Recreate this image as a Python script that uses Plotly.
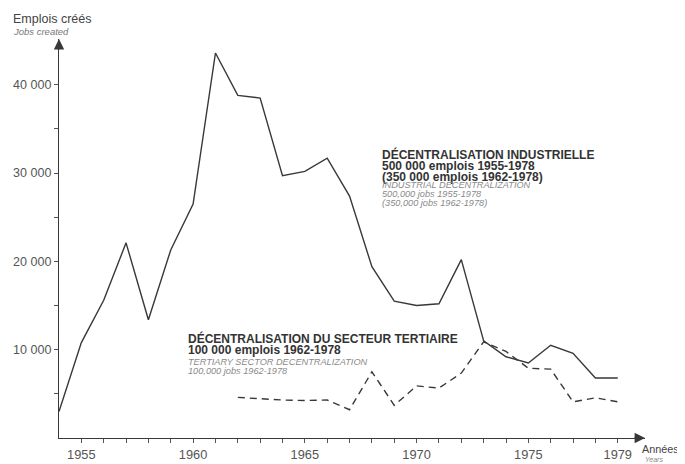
import plotly.graph_objects as go

# ---- data ----
years = list(range(1954, 1980))
industrial = [3000, 10800, 15600, 22100, 13400, 21300, 26500, 43600, 38800, 38500,
              29700, 30200, 31700, 27400, 19400, 15500, 15000, 15200, 20200, 11000,
              9200, 8500, 10500, 9600, 6800, 6800]
tertiary_years = list(range(1962, 1980))
tertiary = [4600, 4450, 4300, 4250, 4300, 3200, 7500, 3700, 5900, 5650,
            7350, 10900, 9800, 7900, 7800, 4100, 4550, 4100]

x_tick_years = list(range(1955, 1980))
x_label_years = [1955, 1960, 1965, 1970, 1975, 1979]
y_tick_vals = [5000, 10000, 15000, 20000, 25000, 30000, 35000, 40000]
y_label_vals = [10000, 20000, 30000, 40000]

SP = "\u00a0"
def fmt(v):
    return f"{v:,}".replace(",", SP)

# ---- layout geometry (page pixels; page has an 8px body margin) ----
OFF = 8
W, H = 685 - OFF, 464 - OFF
L, R, T, B = 59, 645, 39, 438          # page coordinates of the plot area
XMIN, XMAX = 1954, 1954 + (R - L) / 22.35
YMIN, YMAX = 0, (B - T) / 88.3 * 10000

def px(x):
    return (x - L) / (R - L)

def py(y):
    return (B - y) / (B - T)

INK = "#383838"
FONT = "Liberation Sans, Arial, Helvetica, sans-serif"

fig = go.Figure()
fig.add_trace(go.Scatter(x=years, y=industrial, mode="lines",
                         line=dict(color=INK, width=1.4), hoverinfo="skip",
                         showlegend=False))
fig.add_trace(go.Scatter(x=tertiary_years, y=tertiary, mode="lines",
                         line=dict(color=INK, width=1.4, dash="7px,5px"),
                         hoverinfo="skip", showlegend=False))

annotations = []

def txt(x, y, text, size, color, anchor="left"):
    annotations.append(dict(xref="paper", yref="paper", x=px(x), y=py(y),
                            xanchor=anchor, yanchor="middle", text=text,
                            showarrow=False, borderpad=0,
                            font=dict(family=FONT, size=size, color=color)))

txt(12, 19, "Emplois créés", 12.5, "#444")
txt(12, 31, "<i>Jobs created</i>", 9.5, "#777")

bold_c = "#333"
ital_c = "#8a8a8a"
BS = 12
IS = 9.2
txt(381, 154.5, "<b>DÉCENTRALISATION INDUSTRIELLE</b>", BS, bold_c)
txt(381, 165.5, "<b>500" + SP + "000 emplois 1955-1978</b>", BS, bold_c)
txt(381, 176.5, "<b>(350" + SP + "000 emplois 1962-1978)</b>", BS, bold_c)
txt(381, 185.5, "<i>INDUSTRIAL DÉCENTRALIZATION</i>", IS, ital_c)
txt(381, 194, "<i>500,000 jobs 1955-1978</i>", IS, ital_c)
txt(381, 202.5, "<i>(350,000 jobs 1962-1978)</i>", IS, ital_c)

txt(187, 338, "<b>DÉCENTRALISATION DU SECTEUR TERTIAIRE</b>", BS, bold_c)
txt(187, 350, "<b>100" + SP + "000 emplois 1962-1978</b>", BS, bold_c)
txt(187, 361.5, "<i>TERTIARY SECTOR DECENTRALIZATION</i>", IS, ital_c)
txt(187, 371, "<i>100,000 jobs 1962-1978</i>", IS, ital_c)

txt(641, 449, "Années", 10.8, "#444")
txt(644, 459, "<i>Years</i>", 7, "#888")

# axis arrowheads
annotations.append(dict(xref="x", yref="y", x=XMIN, y=YMAX, ax=0, ay=12,
                        text="", showarrow=True, arrowhead=2, arrowsize=1.6,
                        arrowwidth=1.3, arrowcolor=INK, standoff=0))
annotations.append(dict(xref="x", yref="y", x=XMAX, y=0, ax=-12, ay=0,
                        text="", showarrow=True, arrowhead=2, arrowsize=1.6,
                        arrowwidth=1.3, arrowcolor=INK, standoff=0))

fig.update_layout(
    width=W, height=H,
    margin=dict(l=L - OFF, r=685 - R, t=T - OFF, b=464 - B, pad=0, autoexpand=False),
    paper_bgcolor="white", plot_bgcolor="white",
    annotations=annotations,
    font=dict(family=FONT, color="#444"),
    xaxis=dict(range=[XMIN, XMAX], showgrid=False, zeroline=False, automargin=False,
               showline=True, linecolor=INK, linewidth=1.3,
               tickmode="array", tickvals=x_tick_years,
               ticktext=[str(y) if y in x_label_years else "" for y in x_tick_years],
               ticks="outside", ticklen=4, tickwidth=1, tickcolor="#555",
               tickfont=dict(family=FONT, size=12.8, color="#555")),
    yaxis=dict(range=[YMIN, YMAX], showgrid=False, zeroline=False, automargin=False,
               showline=True, linecolor=INK, linewidth=1.3,
               tickmode="array", tickvals=y_tick_vals,
               ticktext=[fmt(v) if v in y_label_vals else "" for v in y_tick_vals],
               ticks="outside", ticklen=4, tickwidth=1, tickcolor="#555",
               tickfont=dict(family=FONT, size=12.5, color="#555")),
)

fig.write_html("out.html")
